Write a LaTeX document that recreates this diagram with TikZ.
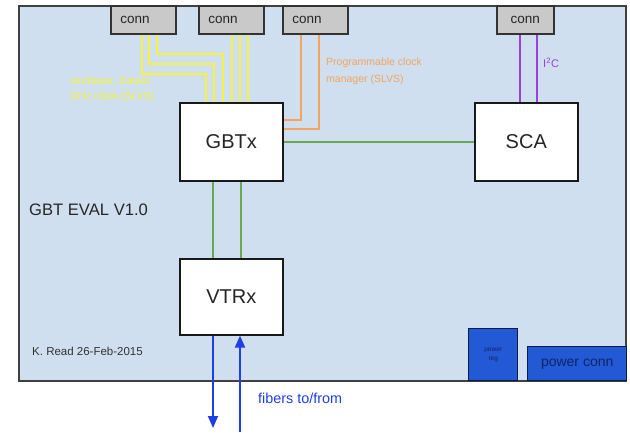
\documentclass[tikz,border=0pt]{standalone}
\usepackage{fontspec}
\setmainfont{Liberation Sans}
\usetikzlibrary{arrows.meta}
\definecolor{boardfill}{HTML}{CFDFF0}
\definecolor{connfill}{HTML}{C9C9C9}
\definecolor{yel}{HTML}{F4F43C}
\definecolor{ora}{HTML}{F2A560}
\definecolor{pur}{HTML}{9B3FE0}
\definecolor{grn}{HTML}{6AA84F}
\definecolor{blu}{HTML}{1F3FE6}
\definecolor{pwrfill}{HTML}{2459D6}
\definecolor{pwrline}{HTML}{0D1B4A}
\definecolor{pwrtext}{HTML}{0E2466}
\begin{document}
\begin{tikzpicture}[x=1pt,y=-1pt,
  boardbox/.style={draw=black!75, line width=1.6pt, fill=boardfill, inner sep=0pt, anchor=north west},
  chip/.style={draw=black!90, line width=1.6pt, fill=white, minimum width=103pt, minimum height=78pt, inner sep=0pt, anchor=north west, text=black!85, font=\fontsize{20}{24}\selectfont},
  connbox/.style={draw=black!80, line width=1.6pt, fill=connfill, minimum height=28pt, inner sep=0pt, anchor=north west, text=black!85, font=\fontsize{13.5}{16}\selectfont},
  lefttext/.style={text width=46pt, align=left},
  pwrbox/.style={draw=pwrline, line width=1.4pt, fill=pwrfill, inner sep=0pt, anchor=north west, text=pwrtext},
  yline/.style={draw=yel, line width=1.8pt},
  oline/.style={draw=ora, line width=1.8pt},
  pline/.style={draw=pur, line width=2pt},
  gline/.style={draw=grn, line width=1.6pt},
  bline/.style={draw=blu, line width=1.8pt, -{Triangle[length=12pt,width=10pt]}},
  lbl/.style={inner sep=0pt, anchor=west, align=left}
]
\useasboundingbox (0,0) rectangle (630,432);

% board
\node[boardbox, minimum width=607pt, minimum height=375pt] (board) at (18,5) {};

% chips
\node[chip] (gbtx) at (179,102) {GBTx};
\node[chip] (sca) at (474,102) {SCA};
\node[chip, minimum height=76pt] (vtrx) at (179,258) {VTRx};

% connectors on the board edge
\node[connbox, lefttext, minimum width=65pt] (conn1) at (110,5) {conn};
\node[connbox, lefttext, minimum width=65pt] (conn2) at (198,5) {conn};
\node[connbox, lefttext, minimum width=65pt] (conn3) at (282,5) {conn};
\node[connbox, minimum width=57pt] (conn4) at (496,5) {conn};

% yellow e-links
\draw[yline] ([xshift=32pt]conn1.south west) -- ++(0,39) -| ([xshift=27pt]gbtx.north west);
\draw[yline] ([xshift=39pt]conn1.south west) -- ++(0,29) -| ([xshift=35pt]gbtx.north west);
\draw[yline] ([xshift=47pt]conn1.south west) -- ++(0,19) -| ([xshift=44pt]gbtx.north west);
\coordinate (y1) at ([xshift=34pt]conn2.south west);
\coordinate (y2) at ([xshift=42pt]conn2.south west);
\coordinate (y3) at ([xshift=50pt]conn2.south west);
\draw[yline] (y1) -- (y1 |- gbtx.north);
\draw[yline] (y2) -- (y2 |- gbtx.north);
\draw[yline] (y3) -- (y3 |- gbtx.north);

% orange clock lines
\draw[oline] ([xshift=19pt]conn3.south west) |- ([yshift=-18pt]gbtx.north east);
\draw[oline] ([xshift=37pt]conn3.south west) |- ([yshift=-27pt]gbtx.north east);

% purple I2C
\coordinate (p1) at ([xshift=24pt]conn4.south west);
\coordinate (p2) at ([xshift=41pt]conn4.south west);
\draw[pline] (p1) -- (p1 |- sca.north);
\draw[pline] (p2) -- (p2 |- sca.north);

% green links
\draw[gline] (gbtx.east) -- (sca.west);
\coordinate (g1) at ([xshift=34pt]gbtx.south west);
\coordinate (g2) at ([xshift=62pt]gbtx.south west);
\draw[gline] (g1) -- (g1 |- vtrx.north);
\draw[gline] (g2) -- (g2 |- vtrx.north);

% fibers
\coordinate (fdown) at (213,428);
\coordinate (fup) at (240,432);
\coordinate (b1) at ([xshift=34pt]vtrx.south west);
\coordinate (b2) at ([xshift=61pt]vtrx.south west);
\draw[bline] (b1) -- (b1 |- fdown);
\draw[bline] (b2 |- fup) -- (b2);

% power
\node[pwrbox, minimum width=49pt, minimum height=52pt, align=center, font=\fontsize{6.5}{9}\selectfont] (preg) at (468,328) {power\\reg};
\node[pwrbox, minimum width=99pt, minimum height=34pt, font=\fontsize{14}{16}\selectfont] (pconn) at (527,346) {power conn};

% labels
\node[lbl, text=yel, font=\fontsize{10.5}{15}\selectfont] (ylab) at (70,89.5) {ser/deser, Data/e\\GHz clock (SLVS)};
\node[lbl, text=ora, font=\fontsize{10.5}{17}\selectfont] (olab) at (326,71.5) {Programmable clock\\manager (SLVS)};
\node[lbl, text=pur, font=\fontsize{11}{13}\selectfont] (plab) at (543,63) {I\textsuperscript{2}C};
\node[lbl, text=black!85, font=\fontsize{16.6}{20}\selectfont] (title) at (29,210) {GBT EVAL V1.0};
\node[lbl, text=black!80, font=\fontsize{11.5}{14}\selectfont] (author) at (32,351) {K. Read 26-Feb-2015};
\node[lbl, text=blu, font=\fontsize{14.4}{17}\selectfont] (flab) at (258,398) {fibers to/from};
\end{tikzpicture}
\end{document}
